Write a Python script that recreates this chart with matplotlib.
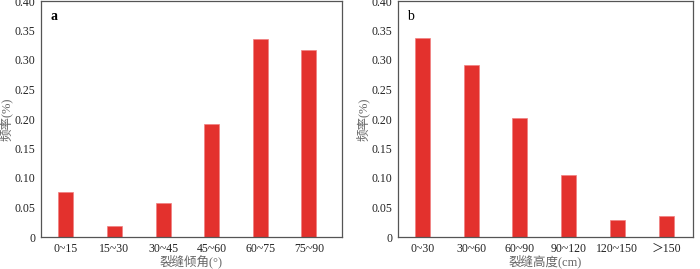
"""Crack dip angle / crack height frequency bar charts."""

import matplotlib
matplotlib.use("Agg")
import matplotlib.pyplot as plt

plt.rcParams["font.family"] = ["Liberation Serif", "Noto Sans CJK SC"]

angle_labels = ["0~15", "15~30", "30~45", "45~60", "60~75", "75~90"]
angle_freq = [0.076, 0.018, 0.058, 0.191, 0.336, 0.317]

height_labels = ["0~30", "30~60", "60~90", "90~120", "120~150", "＞150"]
height_freq = [0.337, 0.291, 0.201, 0.105, 0.028, 0.035]

yticks = [0, 0.05, 0.10, 0.15, 0.20, 0.25, 0.30, 0.35, 0.40]
ytick_labels = ["0", "0.05", "0.10", "0.15", "0.20", "0.25", "0.30", "0.35", "0.40"]

BAR = "#e3312d"
SPINE = "#555555"
LABEL = "#666666"

fig = plt.figure(figsize=(7.0, 2.69), dpi=100)
ax_a = fig.add_axes([41 / 700, 1 - 237 / 269, 301 / 700, 236 / 269])
ax_b = fig.add_axes([398 / 700, 1 - 237 / 269, 295 / 700, 236 / 269])


def draw(ax, labels, values, xlabel, letter, bold, xlim):
    x = range(len(labels))
    ax.bar(x, values, width=0.31, color=BAR, edgecolor="#f08080", linewidth=0.5)
    ax.set_xlim(*xlim)
    ax.set_ylim(0, 0.40)
    ax.set_yticks(yticks)
    ax.set_yticklabels(ytick_labels, fontsize=8.5, color="#222222")
    ax.set_xticks(list(x))
    ax.set_xticklabels(labels, fontsize=8.5, color="#222222")
    ax.tick_params(length=0, pad=4)
    for s in ax.spines.values():
        s.set_color(SPINE)
        s.set_linewidth(0.9)
    ax.set_xlabel(xlabel, fontsize=9, color=LABEL, labelpad=0)
    ax.set_ylabel("频率(%)", fontsize=9, color=LABEL, labelpad=1)
    ax.text(0.03, 0.96, letter, transform=ax.transAxes, fontsize=10,
            fontweight="bold" if bold else "normal", va="top", ha="left")


draw(ax_a, angle_labels, angle_freq, "裂缝倾角(°)", "a", True, (-0.51, 5.68))
draw(ax_b, height_labels, height_freq, "裂缝高度(cm)", "b", False, (-0.5, 5.55))

fig.savefig("out.png", dpi=100)
